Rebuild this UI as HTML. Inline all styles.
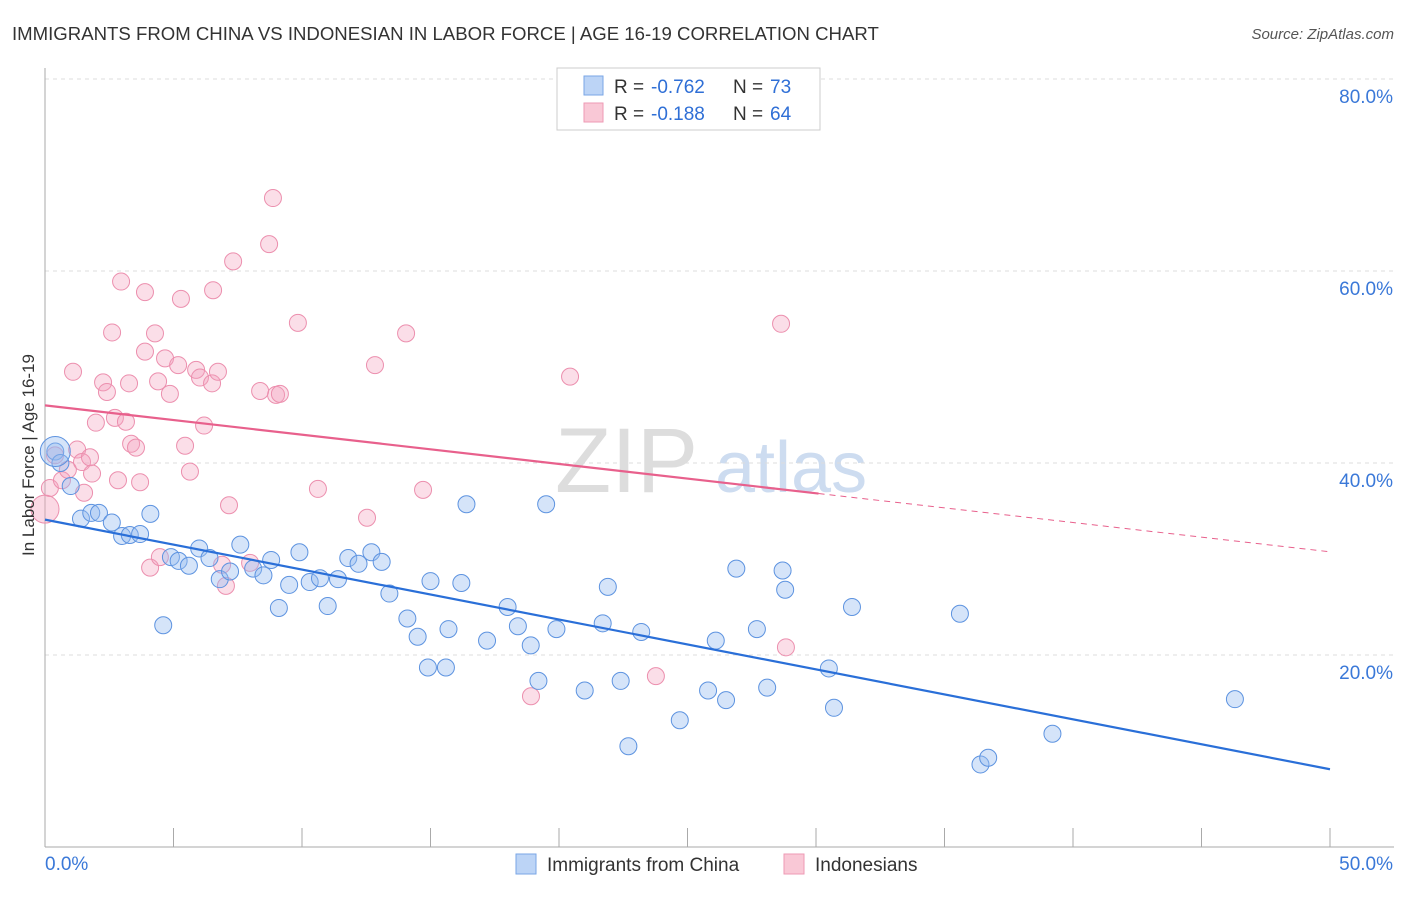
<!DOCTYPE html>
<html><head><meta charset="utf-8"><style>
body{margin:0;background:#fff;font-family:"Liberation Sans",sans-serif;}
svg text{font-family:"Liberation Sans",sans-serif;}
</style></head><body>
<svg id="chart" width="1406" height="892">
<text x="12" y="40" font-size="18.6" fill="#333">IMMIGRANTS FROM CHINA VS INDONESIAN IN LABOR FORCE | AGE 16-19 CORRELATION CHART</text>
<text x="1394" y="39" font-size="15" fill="#555" font-style="italic" text-anchor="end">Source: ZipAtlas.com</text>
<text x="555" y="492" font-size="92" fill="#ddd" font-family="Liberation Serif">ZIP</text>
<text x="715" y="492" font-size="72" fill="#cddcf0">atlas</text>
<g id="grid"></g>
<g id="axes"></g>
<g id="pts"></g>
<g id="lines"></g>
<text x="34" y="455" font-size="17" fill="#333" transform="rotate(-90 34 455)" text-anchor="middle">In Labor Force | Age 16-19</text>
<g>
<rect x="557" y="68" width="263" height="62" fill="#fff" stroke="#ccc"/>
<rect x="584" y="76" width="19" height="19" fill="#bcd4f6" stroke="#7aa6e6"/>
<rect x="584" y="103" width="19" height="19" fill="#f9c8d6" stroke="#ee9ab4"/>
<text x="614" y="93" font-size="19" fill="#333">R = </text><text x="651" y="93" font-size="19" fill="#2f6fd6">-0.762</text>
<text x="733" y="93" font-size="19" fill="#333">N = </text><text x="770" y="93" font-size="19" fill="#2f6fd6">73</text>
<text x="614" y="120" font-size="19" fill="#333">R = </text><text x="651" y="120" font-size="19" fill="#2f6fd6">-0.188</text>
<text x="733" y="120" font-size="19" fill="#333">N = </text><text x="770" y="120" font-size="19" fill="#2f6fd6">64</text>
</g>
<g>
<rect x="516" y="854" width="20" height="20" fill="#bcd4f6" stroke="#7aa6e6"/>
<text x="547" y="871" font-size="19" fill="#333">Immigrants from China</text>
<rect x="784" y="854" width="20" height="20" fill="#f9c8d6" stroke="#ee9ab4"/>
<text x="815" y="871" font-size="19" fill="#333">Indonesians</text>
</g>
</svg>
<script>
const yTicks=[20,40,60,80];
const xTickLabels=["0.0%","50.0%"];
const chinaX=[0.4,0.6,1.0,1.4,1.8,2.1,2.6,3.0,3.3,3.7,4.1,4.6,4.9,5.2,5.6,6.0,6.4,6.8,7.2,7.6,8.1,8.5,8.8,9.1,9.5,9.9,10.3,10.7,11.0,11.4,11.8,12.2,12.7,13.1,13.4,14.1,14.5,14.9,15.6,15.0,15.7,16.2,16.4,17.2,18.0,18.4,18.9,19.2,19.5,19.9,21.0,21.7,21.9,22.4,22.7,23.2,24.7,25.8,26.1,26.5,26.9,27.7,28.1,28.7,28.8,30.5,30.7,31.4,35.6,36.4,36.7,39.2,46.3];
const chinaY=[41.2,40.0,37.6,34.2,34.8,34.8,33.8,32.4,32.5,32.6,34.7,23.1,30.2,29.8,29.3,31.1,30.1,27.9,28.7,31.5,29.0,28.3,29.9,24.9,27.3,30.7,27.6,28.0,25.1,27.9,30.1,29.5,30.7,29.7,26.4,23.8,21.9,18.7,18.7,27.7,22.7,27.5,35.7,21.5,25.0,23.0,21.0,17.3,35.7,22.7,16.3,23.3,27.1,17.3,10.5,22.4,13.2,16.3,21.5,15.3,29.0,22.7,16.6,28.8,26.8,18.6,14.5,25.0,24.3,8.6,9.3,11.8,15.4];
const indoX=[0.19,0.39,0.66,0.89,1.09,1.25,1.44,1.52,1.75,1.83,1.98,2.26,2.41,2.61,2.72,2.84,2.96,3.15,3.27,3.35,3.54,3.70,3.89,3.89,4.09,4.28,4.40,4.47,4.67,4.86,5.18,5.29,5.45,5.64,5.88,6.03,6.19,6.50,6.54,6.73,6.89,7.04,7.16,7.32,7.98,8.37,8.72,8.87,8.99,9.14,9.84,10.62,12.53,12.84,14.05,14.71,18.91,20.43,23.77,28.64,28.83];
const indoY=[37.4,40.8,38.2,39.3,49.5,41.4,40.1,36.9,40.6,38.9,44.2,48.4,47.4,53.6,44.7,38.2,58.9,44.3,48.3,42.0,41.6,38.0,57.8,51.6,29.1,53.5,48.5,30.2,50.9,47.2,50.2,57.1,41.8,39.1,49.7,48.9,43.9,48.3,58.0,49.5,29.4,27.2,35.6,61.0,29.6,47.5,62.8,67.6,47.1,47.2,54.6,37.3,34.3,50.2,53.5,37.2,15.7,49.0,17.8,54.5,20.8];
const bigBlue={x:0.4,y:41.2}, bigPink={x:0.0,y:35.2};
const chinaTrend=[34.1,-0.52];
const indoTrend=[46.0,-0.305];
const X0=45,XW=1285,Y0=847,YH=768;
const xs=v=>X0+v/50*XW, ys=v=>Y0-v/80*YH;
const NS="http://www.w3.org/2000/svg";
function mk(tag,attrs,parent){const e=document.createElementNS(NS,tag);for(const k in attrs)e.setAttribute(k,attrs[k]);parent.appendChild(e);return e;}
const grid=document.getElementById('grid'),axes=document.getElementById('axes'),pts=document.getElementById('pts'),lines=document.getElementById('lines');
yTicks.forEach(t=>{
 const l=mk('line',{x1:X0,x2:1394,y1:ys(t),y2:ys(t),stroke:'#ddd','stroke-dasharray':'4,4'},grid);
 
 
 const tx=mk('text',{x:1393,y:ys(t)+24,'font-size':19,fill:'#3a78d8','text-anchor':'end'},grid);
 tx.textContent=t.toFixed(1)+'%';
 
 
});
mk('line',{x1:X0,x2:X0,y1:68,y2:Y0,stroke:'#aaa'},axes);
mk('line',{x1:X0,x2:1394,y1:Y0,y2:Y0,stroke:'#aaa'},axes);
for(let i=1;i<=10;i++){mk('line',{x1:xs(i*5),x2:xs(i*5),y1:828,y2:Y0,stroke:'#aaa'},axes);}
xTickLabels.forEach((s,i)=>{const t=mk('text',{x:i?1393:45,y:870,'font-size':19,fill:'#3a78d8','text-anchor':i?'end':'start'},axes);t.textContent=s;
 
 });
indoX.forEach((x,i)=>{const c=mk('circle',{cx:xs(x),cy:ys(indoY[i]),r:8.5,fill:'rgba(244,160,188,0.35)',stroke:'#ec8fae','stroke-width':1},pts);
 
 });
chinaX.forEach((x,i)=>{const c=mk('circle',{cx:xs(x),cy:ys(chinaY[i]),r:8.5,fill:'rgba(150,188,240,0.4)',stroke:'#5d93e0','stroke-width':1},pts);
 
 });
mk('circle',{cx:xs(bigBlue.x),cy:ys(bigBlue.y),r:15,fill:'rgba(150,188,240,0.4)',stroke:'#5d93e0'},pts);
mk('circle',{cx:xs(bigPink.x),cy:ys(bigPink.y),r:14,fill:'rgba(244,160,188,0.4)',stroke:'#ec8fae'},pts);
const [ca,cb]=chinaTrend,[ia,ib]=indoTrend;
const bl=mk('line',{x1:xs(0),y1:ys(ca),x2:xs(50),y2:ys(ca+cb*50),stroke:'#2a6fd8','stroke-width':2.2},lines);


const pl=mk('line',{x1:xs(0),y1:ys(ia),x2:xs(30.1),y2:ys(ia+ib*30.1),stroke:'#e8608c','stroke-width':2.2},lines);


const pd=mk('line',{x1:xs(30.1),y1:ys(ia+ib*30.1),x2:xs(50),y2:ys(ia+ib*50),stroke:'#e8608c','stroke-width':1,'stroke-dasharray':'6,5'},lines);


</script>
</body></html>
